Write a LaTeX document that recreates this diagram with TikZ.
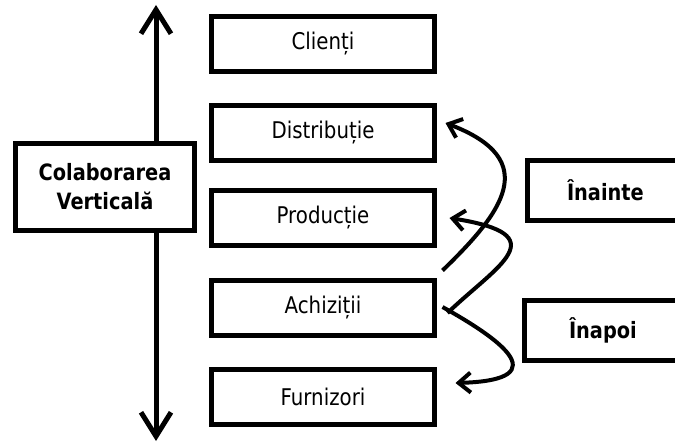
\documentclass[tikz,border=0pt]{standalone}
\usepackage{fontspec}
\setmainfont[FakeStretch=0.86]{DejaVu Sans}
\usetikzlibrary{arrows.meta,calc}
\begin{document}
\begin{tikzpicture}[x=1pt,y=-1pt,
  stage/.style={draw, line width=5pt, fill=white, minimum width=223pt, minimum height=55pt,
    inner sep=0pt, font=\fontsize{23}{27}\selectfont},
  colbox/.style={draw, line width=5pt, fill=white, minimum width=179pt, minimum height=87pt,
    inner sep=0pt, align=center, font=\fontsize{22.5}{29}\selectfont\bfseries},
  sidebox/.style={draw, line width=5pt, fill=white, minimum height=60pt, anchor=west,
    text width=200pt, align=left, inner ysep=0pt, font=\fontsize{22.5}{27}\selectfont\bfseries},
  vert/.style={line width=5pt, -{Straight Barb[length=24pt,width=30pt]}},
  flow/.style={line width=4pt, -{Straight Barb[length=12pt,width=20pt]}}
]
\useasboundingbox (0,0) rectangle (675,446);
\clip (0,0) rectangle (675,446);

\coordinate (top) at (156,5);
\coordinate (bot) at (156,441);

\node[colbox] (colab) at (105,187) {Colaborarea\\Verticală};
\draw[vert] (colab.north -| top) -- (top);
\draw[vert] (colab.south -| bot) -- (bot);

\node[stage] (cli) at (323,44) {Clienți};
\node[stage] (dist) at (323,133) {Distribuție};
\node[stage] (prod) at (323,218) {Producție};
\node[stage] (ach) at (323,308) {Achiziții};
\node[stage] (furn) at (323,397) {Furnizori};

\node[sidebox, inner xsep=40pt] (inainte) at (524.5,190.5) {Înainte};
\node[sidebox, inner xsep=45pt] (inapoi) at (521.5,330.5) {Înapoi};

\draw[flow] ($(ach.north east)+(5.5,-7.5)$) .. controls +(60,-58) and +(97,37) .. ($(dist.east)+(8.5,-10)$);
\draw[flow] ($(ach.east)+(10.5,5)$) .. controls +(50,-48) and +(108,17) .. ($(prod.east)+(12.5,0)$);
\draw[flow] ($(ach.east)+(5.5,-1)$) .. controls +(50,28) and +(107,-3) .. ($(furn.east)+(18.5,-14)$);
\end{tikzpicture}
\end{document}
